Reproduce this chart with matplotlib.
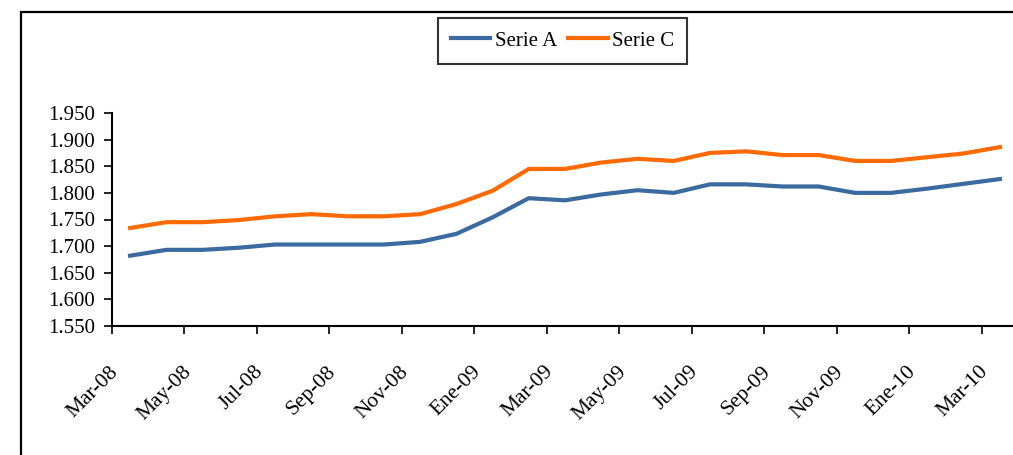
import matplotlib
matplotlib.use("Agg")
import matplotlib.pyplot as plt
import matplotlib.transforms as mtrans
from matplotlib.patches import Rectangle

# monthly data, Mar-08 .. Mar-10
months = ["Mar-08", "Abr-08", "May-08", "Jun-08", "Jul-08", "Ago-08", "Sep-08", "Oct-08", "Nov-08",
          "Dic-08", "Ene-09", "Feb-09", "Mar-09", "Abr-09", "May-09", "Jun-09", "Jul-09", "Ago-09",
          "Sep-09", "Oct-09", "Nov-09", "Dic-09", "Ene-10", "Feb-10", "Mar-10"]
serie_a = [1.682, 1.693, 1.693, 1.697, 1.703, 1.703, 1.703, 1.703, 1.708, 1.723, 1.754, 1.790, 1.786,
           1.797, 1.805, 1.800, 1.816, 1.816, 1.812, 1.812, 1.800, 1.800, 1.808, 1.817, 1.826]
serie_c = [1.734, 1.745, 1.745, 1.749, 1.756, 1.760, 1.756, 1.756, 1.760, 1.779, 1.804, 1.845, 1.845,
           1.857, 1.864, 1.860, 1.875, 1.878, 1.871, 1.871, 1.860, 1.860, 1.867, 1.874, 1.886]
y_ticks = [1.55, 1.60, 1.65, 1.70, 1.75, 1.80, 1.85, 1.90, 1.95]

plt.rcParams['font.family'] = ['Liberation Serif', 'DejaVu Serif']

W, H = 1013, 455
fig = plt.figure(figsize=(W / 100, H / 100), dpi=100)

# outer frame (runs off the right and bottom edges)
fig.patches.append(Rectangle((20.5 / W, -0.1), 1.2, 1 - 12 / H + 0.1, transform=fig.transFigure,
                             fill=False, edgecolor='black', linewidth=1.6))

ax = fig.add_axes([112 / W, 1 - 326 / H, 906 / W, 213 / H])

x = list(range(len(months)))
ax.plot(x, serie_a, color='#3a6aa0', linewidth=3.0, label='Serie A')
ax.plot(x, serie_c, color='#ff6a00', linewidth=3.0, label='Serie C')

ax.set_xlim(-0.5, 24.5)
ax.set_ylim(1.55, 1.95)

# ticks sit between categories, labelled every second month
tick_pos = [i - 0.5 for i in range(0, len(months), 2)]
ax.set_xticks(tick_pos)
ax.set_xticklabels(months[::2], rotation=45, ha='right', va='center', rotation_mode='anchor',
                   fontsize=15.5)
ax.set_yticks(y_ticks)
ax.set_yticklabels([f"{v:.3f}" for v in y_ticks], fontsize=15)

ax.tick_params(axis='both', length=6, width=1.2, direction='out', colors='black')
ax.tick_params(axis='x', pad=25)
ax.tick_params(axis='y', pad=6)

# nudge the rotated month labels a little to the right
shift = mtrans.ScaledTranslation(4 / 100, 0, fig.dpi_scale_trans)
for lab in ax.get_xticklabels():
    lab.set_transform(lab.get_transform() + shift)

for s in ['top', 'right']:
    ax.spines[s].set_visible(False)
for s in ['left', 'bottom']:
    ax.spines[s].set_linewidth(1.5)

leg = fig.legend(loc='center', bbox_to_anchor=(562.5 / W, 1 - 41 / H), ncol=2, fontsize=15,
                 frameon=True, fancybox=False, handlelength=1.9, handletextpad=0.2,
                 columnspacing=0.55, borderpad=0.62)
leg.get_frame().set_edgecolor('black')
leg.get_frame().set_linewidth(1.5)

plt.savefig('out.png', dpi=100)
